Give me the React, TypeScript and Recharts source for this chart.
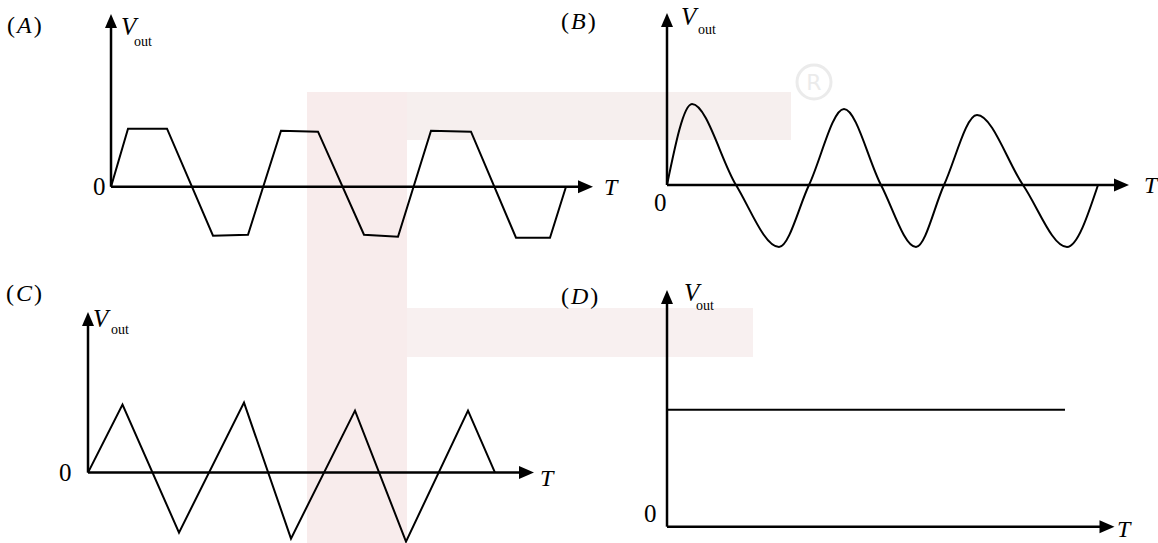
import React from 'react';
import { ComposedChart, Line, XAxis, YAxis, ReferenceLine, ReferenceDot } from 'recharts';

/* (A) clipped sine: trapezoid wave (time, volts) */
const timeA = [0, 17, 56, 102, 137, 170, 207, 253, 287, 320, 360, 405, 439, 455];
const voltA = [0, 58, 58, -49, -48, 56, 55, -48, -50, 56, 55, -51, -51, 0];

/* (B) sine wave, peaks and zero crossings */
const timeB = [0, 25, 69, 112, 142, 177, 214, 249, 277, 310, 356, 400, 431];
const voltB = [0, 81, 0, -62, 0, 76, 0, -62, 0, 70, 0, -62, 0];

/* (C) triangle wave */
const timeC = [0, 34.5, 91, 156, 203, 267, 318, 380, 407];
const voltC = [0, 68, -60, 70, -66, 62, -69, 62, 0];

/* (D) constant dc level */
const timeD = [0, 398];
const voltD = [117, 117];

const FONT = "'Liberation Serif', 'Times New Roman', serif";
const M = 12; // margin round the plot area

const panels = [
  { id: 'A', times: timeA, volts: voltA, curve: 'linear', ox: 111, oy: 186.7, xTip: 482, yTip: 172.7, yMin: -62,
    tag: [7, 33], v: [121, 35], out: [134, 46], zero: [93, 195], t: [604, 195] },
  { id: 'B', times: timeB, volts: voltB, curve: 'monotone', ox: 667, oy: 185, xTip: 462, yTip: 172, yMin: -70,
    tag: [561, 29], v: [681, 25], out: [698, 34], zero: [654, 211], t: [1144, 193] },
  { id: 'C', times: timeC, volts: voltC, curve: 'linear', ox: 88, oy: 472.3, xTip: 446, yTip: 160.6, yMin: -75,
    tag: [6, 301], v: [93, 327], out: [111, 334], zero: [59, 481], t: [540, 486] },
  { id: 'D', times: timeD, volts: voltD, curve: 'linear', ox: 666.5, oy: 526.7, xTip: 447.5, yTip: 236.7, yMin: -10,
    tag: [561, 304], v: [684, 301], out: [696, 310], zero: [644, 522], t: [1117, 537] },
];

function arrowRight(p: any) {
  const { cx, cy } = p;
  return <path d={`M${cx},${cy}L${cx - 15},${cy - 6.5}L${cx - 15},${cy + 6.5}Z`} fill="#000" />;
}

function arrowUp(p: any) {
  const { cx, cy } = p;
  return <path d={`M${cx},${cy}L${cx - 6},${cy + 14}L${cx + 6},${cy + 14}Z`} fill="#000" />;
}

function Scope({ panel }: { panel: any }) {
  const { times, volts, curve, ox, oy, xTip, yTip, yMin } = panel;
  const data = times.map((t: number, i: number) => ({ t, v: volts[i] }));
  return (
    <div style={{ position: 'absolute', left: ox - M, top: oy - yTip - M }}>
      <ComposedChart width={xTip + 2 * M} height={yTip - yMin + 2 * M} data={data}
        margin={{ top: M, right: M, bottom: M, left: M }}>
        <XAxis type="number" dataKey="t" domain={[0, xTip]} hide />
        <YAxis type="number" domain={[yMin, yTip]} hide />
        <ReferenceLine segment={[{ x: 0, y: 0 }, { x: xTip - 8, y: 0 }]} stroke="#000" strokeWidth={2.5} ifOverflow="visible" />
        <ReferenceLine segment={[{ x: 0, y: 0 }, { x: 0, y: yTip - 8 }]} stroke="#000" strokeWidth={2.5} ifOverflow="visible" />
        <Line type={curve} dataKey="v" stroke="#000" strokeWidth={2} dot={false} isAnimationActive={false} />
        <ReferenceDot x={xTip} y={0} shape={arrowRight} ifOverflow="visible" />
        <ReferenceDot x={0} y={yTip} shape={arrowUp} ifOverflow="visible" />
      </ComposedChart>
    </div>
  );
}

function Labels() {
  return (
    <svg width={1158} height={543} style={{ position: 'absolute', left: 0, top: 0, pointerEvents: 'none' }}
      fontFamily={FONT} fill="#000">
      {panels.map(p => (
        <g key={p.id}>
          <text x={p.tag[0]} y={p.tag[1]} fontSize={24} letterSpacing={2}>
            (<tspan fontStyle="italic">{p.id}</tspan>)
          </text>
          <text x={p.v[0]} y={p.v[1]} fontSize={25} fontStyle="italic">V</text>
          <text x={p.out[0]} y={p.out[1]} fontSize={14}>out</text>
          <text x={p.zero[0]} y={p.zero[1]} fontSize={25}>0</text>
          <text x={p.t[0]} y={p.t[1]} fontSize={24} fontStyle="italic">T</text>
        </g>
      ))}
    </svg>
  );
}

// faint logo watermark behind the scopes
function Watermark() {
  return (
    <svg width={1158} height={543} style={{ position: 'absolute', left: 0, top: 0 }}>
      <rect x={307} y={92} width={484} height={48} fill="#f6efee" />
      <rect x={307} y={92} width={100} height={451} fill="#f8ecec" />
      <rect x={407} y={308} width={346} height={49} fill="#f8f0f0" />
      <circle cx={814} cy={82} r={17} fill="none" stroke="#ebebeb" strokeWidth={3} />
      <text x={814} y={90} fontSize={22} textAnchor="middle" fill="#ebebeb" fontFamily="'DejaVu Sans', sans-serif">R</text>
    </svg>
  );
}

export default function App() {
  return (
    <div style={{ position: 'absolute', left: 0, top: 0, width: 1158, height: 543, overflow: 'hidden', background: '#fff' }}>
      <Watermark />
      {panels.map(p => <Scope key={p.id} panel={p} />)}
      <Labels />
    </div>
  );
}
